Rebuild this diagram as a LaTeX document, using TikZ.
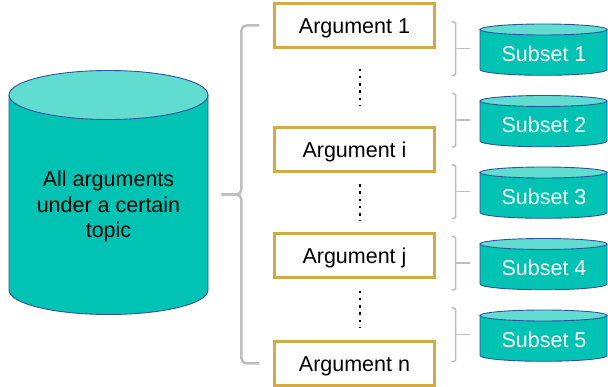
\documentclass[tikz,border=0pt]{standalone}
\usepackage{fontspec}
\setmainfont{Liberation Sans}
\usetikzlibrary{calc}

\definecolor{tealbody}{RGB}{0,195,179}
\definecolor{tealtop}{RGB}{96,220,208}
\definecolor{cylline}{RGB}{46,84,160}
\definecolor{argline}{RGB}{210,170,70}
\definecolor{bracegray}{RGB}{190,190,190}

\tikzset{
  argbox/.style={draw=argline,line width=2.2pt,rectangle,minimum width=160pt,minimum height=44pt,
    text height=17pt,text depth=0pt},
  subsettext/.style={text=white,text height=17pt,text depth=0pt,inner sep=0pt},
  vdots/.style={line width=2.6pt,dash pattern=on 2.6pt off 4.7pt},
  bigbrace/.style={draw=bracegray,line width=2.5pt,rounded corners=5pt},
  smallbrace/.style={draw=bracegray,line width=1.5pt,rounded corners=1.5pt},
  cylbody/.style={fill=tealbody,draw=cylline,line width=0.9pt},
  cyltop/.style={fill=tealtop,draw=cylline,line width=0.9pt}
}

\begin{document}
\begin{tikzpicture}[x=1pt,y=-1pt,font=\fontsize{21.5}{25.5}\selectfont]

\useasboundingbox (0,0) rectangle (608,387);

% the big store
\draw[cylbody] (9,95) -- (9,290) arc[start angle=180,end angle=360,x radius=99.5pt,y radius=24.5pt] -- (208,95) -- cycle;
\draw[cyltop] (108.5,95) ellipse[x radius=99.5pt,y radius=24.5pt];
\node[align=center] (all) at (108.5,206.6) {All arguments\\under a certain\\topic};

% the arguments
\node[argbox] (a1) at (354.5,25.5) {Argument 1};
\node[argbox] (ai) at (354.5,149.5) {Argument i};
\node[argbox] (aj) at (354.5,255.5) {Argument j};
\node[argbox] (an) at (354.5,363.5) {Argument n};

\foreach \u/\v/\s in {a1/ai/20,ai/aj/11.4,aj/an/12}
  \draw[vdots,shorten <=\s pt,shorten >=\s pt] ([xshift=5.5pt]\u.south) -- ([xshift=5.5pt]\v.north);

% brace from the store to the arguments
\coordinate (tip) at ($(a1.west)!.5!(an.west)+(-52,0)$);
\draw[bigbrace] ([xshift=-14pt]a1.west) -| ($(tip)+(20,0)$) -- (tip);
\draw[bigbrace] (tip) -- ($(tip)+(20,0)$) |- ([xshift=-14pt]an.west);

% the subsets
\foreach \k [evaluate=\k as \yt using 29.5+71.5*(\k-1)] in {1,...,5}{
  \draw[cylbody] (480,\yt) -- (480,\yt+40) arc[start angle=180,end angle=360,x radius=63.5pt,y radius=5.8pt] -- (607,\yt) -- cycle;
  \draw[cyltop] (543.5,\yt) ellipse[x radius=63.5pt,y radius=5.5pt];
  \node[subsettext] (s\k) at (544,\yt+23.5) {Subset \k};
  \draw[smallbrace] (451.5,\yt-7.5) -- (455.5,\yt-7.5) -- (455.5,\yt+46) -- (451.5,\yt+46);
  \draw[smallbrace] (455.5,\yt+19.25) -- (470,\yt+19.25);
}

\end{tikzpicture}
\end{document}
